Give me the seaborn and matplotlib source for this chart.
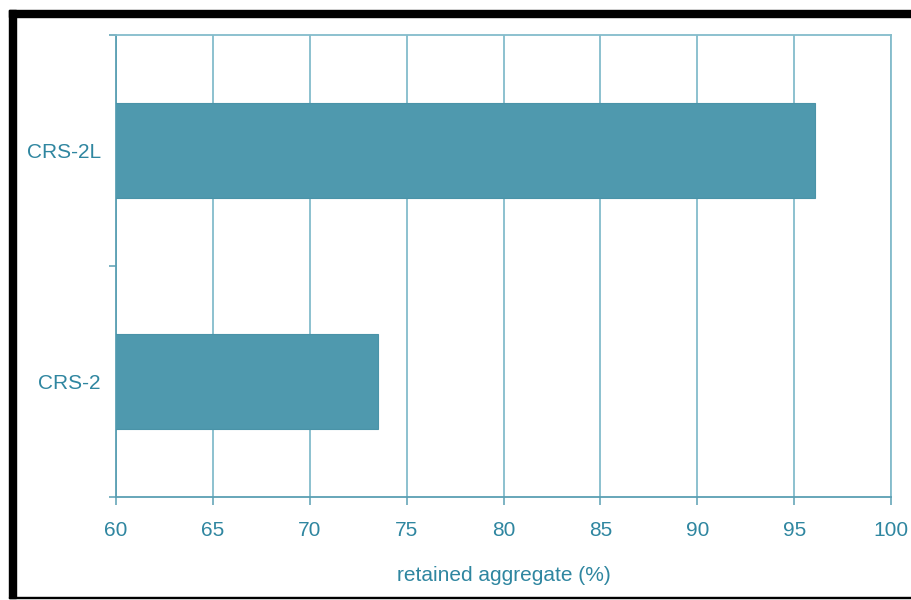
import matplotlib
matplotlib.use("Agg")
import matplotlib.pyplot as plt
from matplotlib.patches import Rectangle
import seaborn as sns
import pandas as pd

categories = ["CRS-2L", "CRS-2"]
retained = [96.1, 73.5]
x_ticks = [60, 65, 70, 75, 80, 85, 90, 95, 100]
x_label = "retained aggregate (%)"

sns.set_theme(style="white")
plt.rcParams["font.family"] = ["Liberation Sans", "DejaVu Sans"]

TEXT = "#2f86a0"
BAR = "#4f99ae"
GRID = "#84bccb"
SPINE = "#5a9fb3"

W, H = 912, 600
fig = plt.figure(figsize=(W / 100, H / 100), dpi=100)
ax = fig.add_axes([116 / W, 1 - 497 / H, (891 - 116) / W, (497 - 35) / H])

df = pd.DataFrame({"category": categories, "value": retained})
sns.barplot(data=df, y="category", x="value", orient="h", color=BAR,
            width=0.41, saturation=1, edgecolor="#4a93a8", linewidth=0.8, ax=ax, zorder=3)

ax.set_xlim(60, 100)
ax.set_ylim(1.5, -0.5)
ax.set_xticks(x_ticks)
ax.set_xticklabels([str(t) for t in x_ticks])
ax.set_xlabel(x_label, fontsize=15, color=TEXT, labelpad=19)
ax.set_ylabel("")

ax.grid(axis="x", color=GRID, linewidth=1.3, zorder=0)
ax.set_axisbelow(True)
for side in ["top", "right"]:
    ax.spines[side].set_visible(True)
    ax.spines[side].set_color(GRID)
    ax.spines[side].set_linewidth(1.3)
for side in ["left", "bottom"]:
    ax.spines[side].set_color(SPINE)
    ax.spines[side].set_linewidth(1.3)

ax.tick_params(axis="x", which="major", length=6, width=1.1, color=SPINE,
               labelsize=15, labelcolor=TEXT, pad=11, bottom=True)
ax.tick_params(axis="y", which="major", length=0, labelsize=15,
               labelcolor=TEXT, pad=11)
ax.set_yticks([-0.5, 0.5, 1.5], minor=True)
ax.tick_params(axis="y", which="minor", length=5, width=1.1, color=SPINE, left=True)

# black frame
frame = [
    (9, 10, 7, 588),     # left band
    (9, 10, 903, 7),     # top band
    (9, 596.5, 903, 1.8),  # bottom line
]
for x, y, w, h in frame:
    fig.patches.append(Rectangle((x / W, 1 - (y + h) / H), w / W, h / H,
                                 transform=fig.transFigure, color="black",
                                 zorder=10))

fig.savefig("out.png", dpi=100)
